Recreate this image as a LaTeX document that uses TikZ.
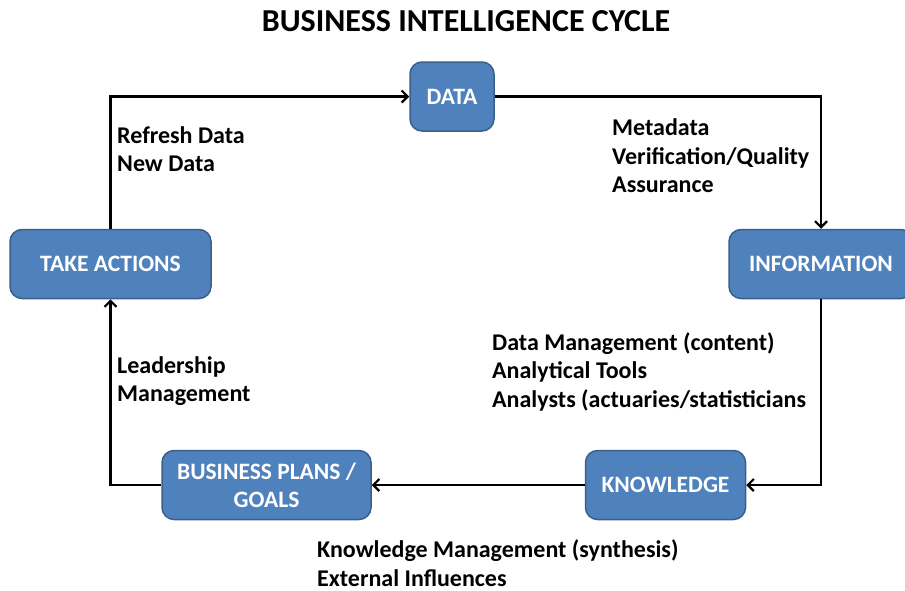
\documentclass[tikz,border=0pt]{standalone}
\usepackage{fontspec}
\setmainfont{Carlito}
\usetikzlibrary{arrows.meta}
\definecolor{boxblue}{RGB}{79,129,189}
\definecolor{boxedge}{RGB}{58,95,140}

\begin{document}
\begin{tikzpicture}[x=1pt,y=-1pt,
    stage/.style={draw=boxedge, line width=1.5pt, fill=boxblue,
      rounded corners=12pt, text=white, align=center, inner sep=0pt,
      minimum height=69pt, font=\fontsize{23.5}{28}\selectfont\bfseries},
    note/.style={anchor=west, align=left, inner sep=0pt,
      font=\fontsize{24}{28.5}\selectfont\bfseries},
    flow/.style={line width=2.2pt, -{Straight Barb[length=6pt,width=12pt]}}
  ]
  \useasboundingbox (0,0) rectangle (905,590);
  \node[font=\fontsize{32}{36}\selectfont\bfseries] (title) at (466,21)
    {BUSINESS INTELLIGENCE CYCLE};

  % the five stages
  \node[stage, minimum width=84pt]  (data)  at (452,96.5) {DATA};
  \node[stage, minimum width=184pt] (info)  at (821,264)  {INFORMATION};
  \node[stage, minimum width=160pt] (know)  at (665.5,485) {KNOWLEDGE};
  \node[stage, minimum width=209pt] (plans) at (266.5,485) {BUSINESS PLANS /\\GOALS};
  \node[stage, minimum width=201pt] (act)   at (110.5,264) {TAKE ACTIONS};

  % cycle
  \draw[flow] (act.north) |- (data.west);
  \draw[flow] (data.east) -| (info.north);
  \draw[flow] (info.south) |- (know.east);
  \draw[flow] (know.west) -- (plans.east);
  \draw[flow] (plans.west) -| (act.south);

  % notes
  \node[note] (refresh) at (117,149) {Refresh Data\\New Data};
  \node[note] (meta) at (612,156) {Metadata\\Verification/Quality\\Assurance};
  \node[note] (tools) at (492,371.5) {Data Management (content)\\Analytical Tools\\Analysts (actuaries/statisticians};
  \node[note] (lead) at (117,381) {Leadership\\Management};
  \node[note] (synth) at (317,563) {Knowledge Management (synthesis)\\External Influences};
\end{tikzpicture}
\end{document}
